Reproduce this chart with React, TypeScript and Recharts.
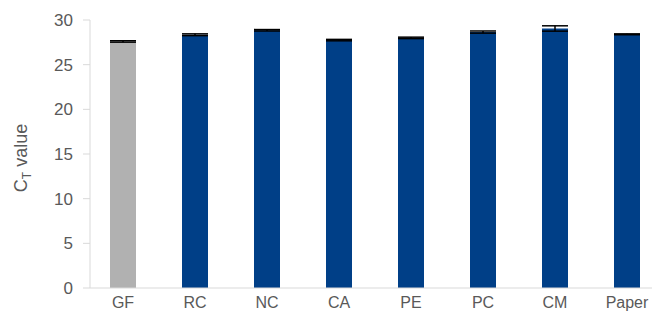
import React from "react";
import { BarChart, Bar, XAxis, YAxis, Cell, ErrorBar } from "recharts";

const categories = ["GF", "RC", "NC", "CA", "PE", "PC", "CM", "Paper"];
const ctValues = [27.6, 28.35, 28.85, 27.75, 28.0, 28.65, 29.05, 28.4];
const ctErrors = [0.08, 0.1, 0.08, 0.08, 0.08, 0.12, 0.3, 0.05];
const yTicks = [0, 5, 10, 15, 20, 25, 30];

const data = categories.map((c, i) => ({ name: c, value: ctValues[i], err: ctErrors[i] }));

const FONT = "'Liberation Sans', Arial, Helvetica, sans-serif";
const TEXT = "#595959";
const AXIS = "#d9d9d9";
const BLUE = "#003f87";
const GREY = "#b1b1b1";

const YLabel = () => (
  <text
    x={27}
    y={158}
    transform="rotate(-90 27 158)"
    textAnchor="middle"
    fontFamily={FONT}
    fontSize={18}
    fill={TEXT}
  >
    C<tspan fontSize={12} dy={4}>T</tspan>
    <tspan dy={-4}> value</tspan>
  </text>
);

const XTick = (props: any) => {
  const { x, y, payload } = props;
  return (
    <text
      x={x}
      y={y + 14}
      textAnchor="middle"
      fontFamily={FONT}
      fontSize={16}
      fill={TEXT}
    >
      {payload.value}
    </text>
  );
};

export default function App() {
  return (
    <div style={{ position: "absolute", left: 0, top: 0, width: 652, height: 311 }}>
      <style>{`html,body{overflow:hidden;}`}</style>
      <BarChart
        width={652}
        height={311}
        data={data}
        margin={{ top: 20, right: 0, left: 8, bottom: 0 }}
      >
        <XAxis
          dataKey="name"
          padding={{ left: -3, right: -11 }}
          tickLine={false}
          axisLine={{ stroke: AXIS }}
          tick={<XTick />}
          tickMargin={0}
          height={23}
          interval={0}
        />
        <YAxis
          width={82}
          domain={[0, 30]}
          ticks={yTicks}
          interval={0}
          axisLine={{ stroke: AXIS }}
          tickLine={{ stroke: AXIS }}
          tickSize={7}
          tickMargin={10}
          tick={{ fontFamily: FONT, fontSize: 17, fill: TEXT }}
          label={{ content: () => <YLabel /> }}
        />
        <Bar dataKey="value" barSize={26} isAnimationActive={false}>
          {data.map((d, i) => (
            <Cell key={d.name} fill={i === 0 ? GREY : BLUE} />
          ))}
          <ErrorBar dataKey="err" width={13} stroke="#000" strokeWidth={1.5} />
        </Bar>
      </BarChart>
    </div>
  );
}
